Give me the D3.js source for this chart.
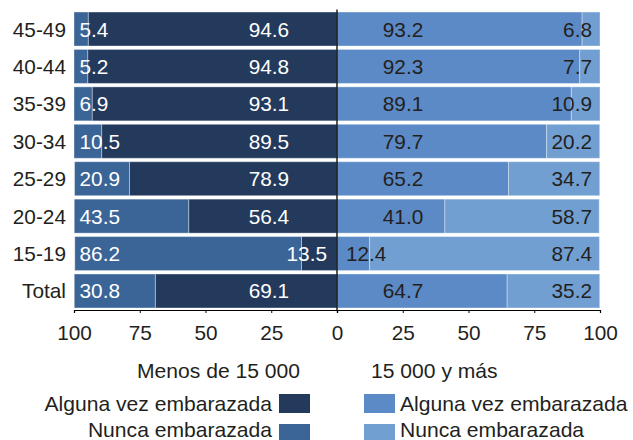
<!DOCTYPE html>
<html>
<head>
<meta charset="utf-8">
<script src="https://cdn.jsdelivr.net/npm/d3@7"></script>
<style>
  html, body { margin: 0; padding: 0; background: #fff; }
  svg { display: block; font-family: "Liberation Sans", Arial, sans-serif; }
</style>
</head>
<body>
<svg id="chart" width="633" height="440"></svg>
<script>
const categories = ["45-49", "40-44", "35-39", "30-34", "25-29", "20-24", "15-19", "Total"];
const lowAlguna  = [94.6, 94.8, 93.1, 89.5, 78.9, 56.4, 13.5, 69.1];
const lowNunca   = [5.4, 5.2, 6.9, 10.5, 20.9, 43.5, 86.2, 30.8];
const highAlguna = [93.2, 92.3, 89.1, 79.7, 65.2, 41.0, 12.4, 64.7];
const highNunca  = [6.8, 7.7, 10.9, 20.2, 34.7, 58.7, 87.4, 35.2];
const tickValues = [0, 25, 50, 75, 100];
const groupLabels = ["Menos de 15 000", "15 000 y más"];
const seriesLabels = ["Alguna vez embarazada", "Nunca embarazada"];

const colors = {
  lowAlguna: "#243a5c",
  lowNunca: "#3b6597",
  highAlguna: "#5b8ac6",
  highNunca: "#729fd1"
};
const textDark = "#231f20";

const svg = d3.select("#chart");
const center = 337;
const xL = d3.scaleLinear().domain([0, 100]).range([center, 74]);
const xR = d3.scaleLinear().domain([0, 100]).range([center, 600]);
const y = d3.scaleBand().domain(categories).range([10.3, 309.7]).paddingInner(0.092).paddingOuter(0.046);
const fs = 20.8;
const fsLegend = 21.1;

const rows = categories.map((c, i) => ({
  cat: c, la: lowAlguna[i], ln: lowNunca[i], ha: highAlguna[i], hn: highNunca[i]
}));

const g = svg.append("g");

function seg(scale, start, len, fill, cat) {
  const a = scale(start), b = scale(start + len);
  g.append("rect")
    .attr("x", Math.min(a, b)).attr("width", Math.abs(b - a))
    .attr("y", y(cat)).attr("height", y.bandwidth())
    .attr("fill", fill)
    .attr("stroke", "rgba(255,255,255,0.35)").attr("stroke-width", 1);
}
rows.forEach(r => {
  seg(xL, 0, r.la, colors.lowAlguna, r.cat);
  seg(xL, r.la, r.ln, colors.lowNunca, r.cat);
  seg(xR, 0, r.ha, colors.highAlguna, r.cat);
  seg(xR, r.ha, r.hn, colors.highNunca, r.cat);
});

const labels = svg.append("g").attr("font-size", fs);
rows.forEach(r => {
  const cy = y(r.cat) + y.bandwidth() / 2;
  labels.append("text").attr("x", xL(100) + 5.5).attr("y", cy).attr("dy", "0.36em")
    .attr("fill", "#fff").attr("text-anchor", "start").text(r.ln.toFixed(1));
  labels.append("text").attr("x", xL(r.la < 20 ? 3.8 : 18.2)).attr("y", cy).attr("dy", "0.36em")
    .attr("fill", "#fff").attr("text-anchor", "end").text(r.la.toFixed(1));
  labels.append("text").attr("x", xR(r.ha < 20 ? 3.4 : 17.4)).attr("y", cy).attr("dy", "0.36em")
    .attr("fill", textDark).attr("text-anchor", "start").text(r.ha.toFixed(1));
  labels.append("text").attr("x", xR(100) - 8).attr("y", cy).attr("dy", "0.36em")
    .attr("fill", textDark).attr("text-anchor", "end").text(r.hn.toFixed(1));
  labels.append("text").attr("x", 66).attr("y", cy).attr("dy", "0.36em")
    .attr("fill", textDark).attr("text-anchor", "end").text(r.cat);
});

svg.append("line").attr("x1", center).attr("x2", center)
  .attr("y1", 9.5).attr("y2", 310).attr("stroke", "#000").attr("stroke-width", 1.3);

function drawAxis(scale) {
  const ax = svg.append("g").attr("transform", "translate(0,310)")
    .call(d3.axisBottom(scale).tickValues(tickValues).tickSize(3).tickFormat(d3.format("d")));
  ax.select(".domain").attr("stroke", "#000").attr("stroke-width", 1.2);
  ax.selectAll(".tick line").attr("stroke", "#000");
  ax.selectAll(".tick text").attr("font-size", fs).attr("fill", textDark)
    .attr("font-family", "Liberation Sans, Arial, sans-serif").attr("y", 15).attr("dy", "0.71em");
  return ax;
}
drawAxis(xL);
const axR = drawAxis(xR);
axR.selectAll(".tick").filter(d => d === 0).select("text").remove();

const lg = svg.append("g").attr("font-size", fsLegend).attr("fill", textDark);
lg.append("text").attr("x", 300).attr("y", 378).attr("text-anchor", "end").text(groupLabels[0]);
lg.append("text").attr("x", 371).attr("y", 378).attr("text-anchor", "start").text(groupLabels[1]);

const legendRows = [
  { label: seriesLabels[0], left: colors.lowAlguna, right: colors.highAlguna, top: 394, base: 411 },
  { label: seriesLabels[1], left: colors.lowNunca, right: colors.highNunca, top: 424, base: 437 }
];
legendRows.forEach(d => {
  lg.append("rect").attr("x", 279).attr("y", d.top).attr("width", 31).attr("height", 19).attr("fill", d.left);
  lg.append("rect").attr("x", 364).attr("y", d.top).attr("width", 31).attr("height", 19).attr("fill", d.right);
  lg.append("text").attr("x", 272).attr("y", d.base).attr("text-anchor", "end").text(d.label);
  lg.append("text").attr("x", 400).attr("y", d.base).attr("text-anchor", "start").text(d.label);
});
</script>
</body>
</html>
